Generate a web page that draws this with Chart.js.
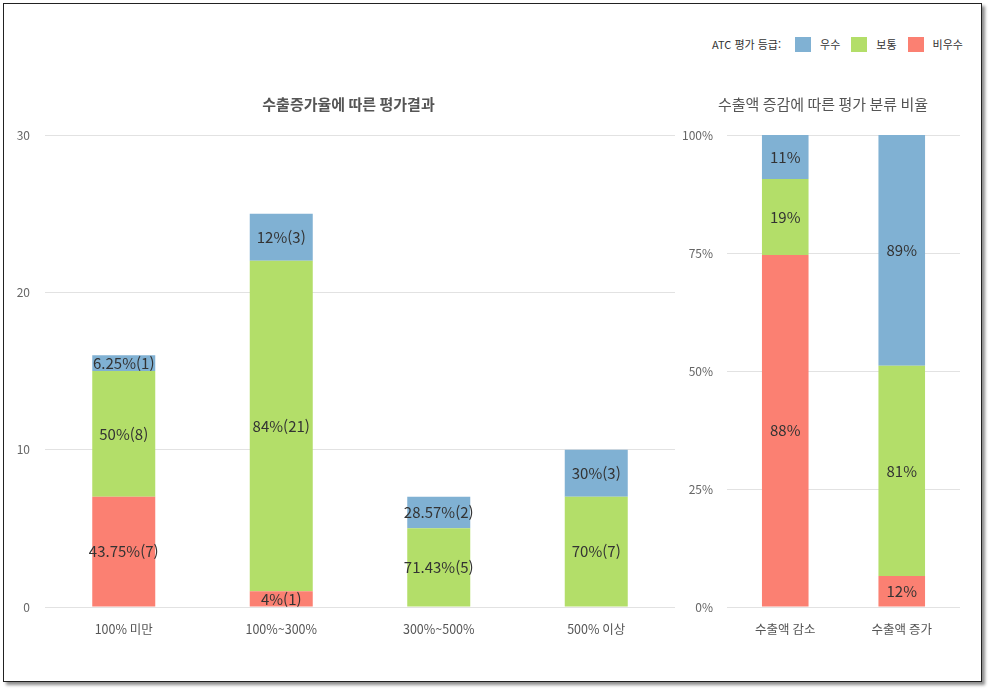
<!DOCTYPE html>
<html lang="ko">
<head>
<meta charset="UTF-8">
<title>ATC 평가</title>
<script src="https://cdn.jsdelivr.net/npm/chart.js"></script>
<style>
    body { margin: 0; background: #fff; font-family: 'Noto Sans CJK KR', sans-serif; }
    .frame {
        position: absolute; left: 3px; top: 3px; width: 977px; height: 677px;
        border: 1px solid #222; background: #fff;
        box-shadow: 3px 3px 3px rgba(0, 0, 0, 0.45);
    }
    .box { position: absolute; }
    .legenda {
        position: absolute; left: 712px; top: 36px; height: 16px;
        display: flex; align-items: center; font-size: 11px; color: #333;
    }
    .legenda .tit { margin-right: 14px; }
    .legenda .cor { width: 16px; height: 15px; margin-right: 9px; }
    .legenda .txt { margin-right: 11px; }
</style>
</head>
<body>
<div class="frame"></div>

<div class="legenda">
    <span class="tit">ATC 평가 등급:</span>
    <span class="cor" style="background:#80B1D3"></span><span class="txt">우수</span>
    <span class="cor" style="background:#B3DE69"></span><span class="txt">보통</span>
    <span class="cor" style="background:#FB8072"></span><span class="txt">비우수</span>
</div>

<div class="box" style="left:0px; top:80px; width:680px; height:567px;">
    <canvas id="graficoEsq"></canvas>
</div>
<div class="box" style="left:680px; top:80px; width:295px; height:567px;">
    <canvas id="graficoDir"></canvas>
</div>

<script>
    // dados do grafico da esquerda (contagens)
    const faixas = ['100% 미만', '100%~300%', '300%~500%', '500% 이상']
    const ruimEsq = [7, 1, 0, 0]
    const normalEsq = [8, 21, 5, 7]
    const bomEsq = [1, 3, 2, 3]
    const ticksEsq = [0, 10, 20, 30]

    // dados do grafico da direita (percentuais mostrados)
    const grupos = ['수출액 감소', '수출액 증가']
    const ruimDir = [88, 12]
    const normalDir = [19, 81]
    const bomDir = [11, 89]
    const ticksDir = [0, 25, 50, 75, 100]

    const corBom = '#80B1D3'
    const corNormal = '#B3DE69'
    const corRuim = '#FB8072'
    const fonte = "'Noto Sans CJK KR', sans-serif"

    // escreve o texto no meio de cada pedaço da barra
    const rotulos = {
        id: 'rotulos',
        afterLayout(chart, args, opts) {
            // empurra o titulo um pouco para a direita
            if (opts.deslocaTitulo && chart.titleBlock) {
                chart.titleBlock.left += opts.deslocaTitulo
                chart.titleBlock.right += opts.deslocaTitulo
            }
        },
        afterDatasetsDraw(chart, args, opts) {
            const ctx = chart.ctx
            ctx.save()
            ctx.font = '15px ' + fonte
            ctx.fillStyle = '#333'
            ctx.textAlign = 'center'
            ctx.textBaseline = 'middle'
            chart.data.datasets.forEach((ds, i) => {
                chart.getDatasetMeta(i).data.forEach((barra, j) => {
                    const txt = opts.texto(i, j)
                    if (!txt) return
                    const p = barra.getProps(['x', 'y', 'base'], true)
                    ctx.fillText(txt, p.x, (p.y + p.base) / 2)
                })
            })
            ctx.restore()
        }
    }

    function arred(v) {
        return Math.round(v * 100) / 100
    }

    const seriesEsq = [ruimEsq, normalEsq, bomEsq]
    const totaisEsq = faixas.map((f, j) => ruimEsq[j] + normalEsq[j] + bomEsq[j])

    const seriesDir = [ruimDir, normalDir, bomDir]
    const totaisDir = grupos.map((g, j) => ruimDir[j] + normalDir[j] + bomDir[j])
    const proporcao = s => s.map((v, j) => v / totaisDir[j] * 100)

    function eixoY(largura, padding, fmt, lista) {
        return {
            stacked: true,
            min: lista[0],
            max: lista[lista.length - 1],
            afterFit(s) { s.width = largura },
            afterBuildTicks(s) { s.ticks = lista.map(v => ({ value: v })) },
            border: { display: false },
            grid: { color: '#e2e2e2', drawTicks: false },
            ticks: { padding: padding, color: '#666', font: { size: 12, family: fonte }, callback: fmt }
        }
    }

    function eixoX() {
        return {
            stacked: true,
            afterFit(s) { s.height = 40 },
            border: { display: false },
            grid: { display: false, drawTicks: false },
            ticks: { padding: 15, color: '#555', font: { size: 12.5, family: fonte } }
        }
    }

    function titulo(texto, peso) {
        return {
            display: true,
            text: texto,
            color: '#555',
            font: { size: 15, weight: peso, family: fonte },
            padding: { top: 15, bottom: 22 }
        }
    }

    new Chart(document.getElementById('graficoEsq'), {
        type: 'bar',
        data: {
            labels: faixas,
            datasets: [
                { label: '비우수', data: ruimEsq, backgroundColor: corRuim },
                { label: '보통', data: normalEsq, backgroundColor: corNormal },
                { label: '우수', data: bomEsq, backgroundColor: corBom }
            ]
        },
        options: {
            responsive: true,
            maintainAspectRatio: false,
            animation: false,
            categoryPercentage: 1,
            barPercentage: 0.4,
            layout: { padding: { left: 0, right: 5, top: 0, bottom: 0 } },
            plugins: {
                legend: { display: false },
                tooltip: { enabled: false },
                title: titulo('수출증가율에 따른 평가결과', 'bold'),
                rotulos: {
                    deslocaTitulo: 11,
                    texto(i, j) {
                        const v = seriesEsq[i][j]
                        if (!v) return ''
                        return arred(v / totaisEsq[j] * 100) + '%(' + v + ')'
                    }
                }
            },
            scales: {
                x: eixoX(),
                y: eixoY(45, 15, v => v, ticksEsq)
            }
        },
        plugins: [rotulos]
    })

    new Chart(document.getElementById('graficoDir'), {
        type: 'bar',
        data: {
            labels: grupos,
            datasets: [
                { label: '비우수', data: proporcao(ruimDir), backgroundColor: corRuim },
                { label: '보통', data: proporcao(normalDir), backgroundColor: corNormal },
                { label: '우수', data: proporcao(bomDir), backgroundColor: corBom }
            ]
        },
        options: {
            responsive: true,
            maintainAspectRatio: false,
            animation: false,
            categoryPercentage: 1,
            barPercentage: 0.4,
            layout: { padding: { left: 0, right: 15, top: 0, bottom: 0 } },
            plugins: {
                legend: { display: false },
                tooltip: { enabled: false },
                title: titulo('수출액 증감에 따른 평가 분류 비율', 'normal'),
                rotulos: {
                    deslocaTitulo: 3,
                    texto(i, j) {
                        const v = seriesDir[i][j]
                        return v ? v + '%' : ''
                    }
                }
            },
            scales: {
                x: eixoX(),
                y: eixoY(47, 14, v => v + '%', ticksDir)
            }
        },
        plugins: [rotulos]
    })
</script>
</body>
</html>
